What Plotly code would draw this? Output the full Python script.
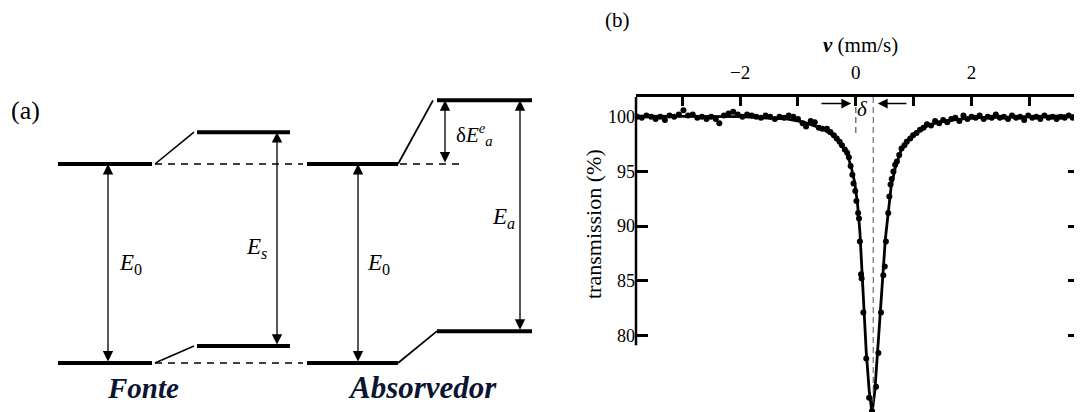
import plotly.graph_objects as go

# ---------------- Panel (b): Mossbauer spectrum data ----------------
v_data = [-3.78, -3.70, -3.62, -3.54, -3.46, -3.38, -3.30, -3.22, -3.14, -3.06,
          -2.98, -2.90, -2.82, -2.74, -2.66, -2.58, -2.50, -2.42, -2.36, -2.28,
          -2.20, -2.12, -2.04, -1.96, -1.88, -1.80, -1.72, -1.64, -1.56, -1.48,
          -1.40, -1.32, -1.24, -1.16, -1.08, -1.00, -0.92, -0.86, -0.78, -0.71,
          -0.64, -0.58, -0.50, -0.44, -0.38, -0.33, -0.28, -0.24, -0.19, -0.15,
          -0.12, -0.09, -0.06, -0.04, -0.01, 0.01, 0.04, 0.055, 0.07, 0.09,
          0.10, 0.13, 0.18, 0.23, 0.28, 0.35, 0.39, 0.435, 0.475, 0.50,
          0.52, 0.56, 0.58, 0.60, 0.62, 0.65, 0.68, 0.71, 0.75, 0.79,
          0.84, 0.88, 0.94, 0.99, 1.05, 1.11, 1.17, 1.23, 1.30, 1.37,
          1.44, 1.51, 1.58, 1.65, 1.72, 1.79, 1.86, 1.93, 2.00, 2.07,
          2.14, 2.21, 2.28, 2.35, 2.42, 2.49, 2.56, 2.63, 2.70, 2.77,
          2.84, 2.91, 2.98, 3.05, 3.12, 3.19, 3.26, 3.33, 3.40, 3.47,
          3.54, 3.61, 3.68, 3.75, 3.82]
t_data = [100.0, 99.9, 100.1, 100.0, 99.8, 100.0, 99.7, 100.1, 100.0, 100.2,
          100.6, 100.1, 100.2, 99.9, 100.0, 99.8, 100.0, 99.8, 99.4, 100.1,
          100.3, 100.45, 100.2, 100.0, 100.2, 100.1, 100.0, 99.9, 100.1, 100.0,
          99.8, 100.0, 99.9, 100.1, 100.0, 99.8, 99.4, 99.1, 99.6, 99.5,
          99.0, 98.9, 98.9, 98.6, 98.3, 98.0, 97.7, 97.4, 97.0, 96.7,
          96.3, 95.5, 94.7, 93.9, 93.2, 92.3, 91.2, 90.7, 88.6, 85.6,
          85.2, 82.1, 77.9, 74.3, 73.1, 75.3, 78.4, 82.1, 85.5, 86.3,
          88.6, 91.2, 92.7, 93.8, 94.3, 95.0, 95.6, 95.9, 96.5, 97.1,
          97.4, 97.7, 98.0, 98.3, 98.5, 98.8, 99.0, 99.3, 99.2, 99.6,
          99.4, 99.7, 99.5, 99.8, 99.9, 99.6, 100.1, 99.8, 100.0, 99.9,
          100.1, 99.8, 100.0, 99.9, 100.2, 99.9, 100.0, 99.8, 100.1, 99.9,
          100.0, 99.7, 100.1, 99.9, 100.0, 99.8, 100.1, 99.9, 100.0, 99.8,
          100.0, 99.9, 100.1, 99.9, 100.0]

v_fit = [-3.80, -2.0, -1.2, -0.9, -0.6, -0.4, -0.25, -0.15, -0.08, -0.02,
         0.03, 0.07, 0.10, 0.14, 0.18, 0.23, 0.28, 0.33, 0.38, 0.43,
         0.47, 0.51, 0.56, 0.61, 0.68, 0.78, 0.90, 1.05, 1.25, 1.50,
         2.0, 3.875]
t_fit = [100.05, 100.0, 99.8, 99.5, 98.95, 98.3, 97.4, 96.6, 95.4, 94.0,
         92.0, 89.5, 86.5, 82.5, 78.5, 75.0, 72.9, 75.0, 78.5, 82.3,
         85.7, 88.8, 91.5, 93.6, 95.3, 96.9, 97.9, 98.6, 99.2, 99.6,
         99.9, 100.1]

x_ticks = [-3, -2, -1, 0, 1, 2, 3]
x_ticklabels = ["", "\u22122", "", "0", "", "2", ""]
y_ticks = [80, 85, 90, 95, 100]
isomer_shift = 0.3

# ---------------- Panel (a): energy level diagram ----------------
E_ground = 0.0
E_excited = 10.0
src_shift = [0.85, 11.6]      # shifted source ground / excited
abs_shift = [1.6, 13.2]       # shifted absorber ground / excited

FONT = "Liberation Serif"
NAVY = "#0b1533"

# page body has an 8px margin: figure occupies window pixels 8..1082 / 8..412
OFF = 8
W, H = 1082 - OFF, 412 - OFF


def px(X):
    return (X - OFF) / W


def py(Y):
    return 1 - (Y - OFF) / H


fig = go.Figure()


def seg(x, y, width=4, dash=None):
    fig.add_trace(go.Scatter(x=x, y=y, mode="lines", xaxis="x", yaxis="y",
                             line=dict(color="black", width=width, dash=dash),
                             hoverinfo="skip", showlegend=False))


# source
seg([58, 152], [E_ground, E_ground])
seg([58, 152], [E_excited, E_excited])
seg([197, 290], [src_shift[0]] * 2)
seg([197, 290], [src_shift[1]] * 2)
seg([155, 194], [E_excited, src_shift[1]], width=1.6)
seg([155, 194], [E_ground, src_shift[0]], width=1.6)
seg([155, 303], [E_excited, E_excited], width=1.5, dash="7px,6px")
seg([155, 303], [E_ground, E_ground], width=1.5, dash="7px,6px")
# absorber
seg([307, 398], [E_ground, E_ground])
seg([307, 398], [E_excited, E_excited])
seg([437, 532], [abs_shift[0]] * 2)
seg([437, 532], [abs_shift[1]] * 2)
seg([398, 433], [E_excited, abs_shift[1]], width=1.8)
seg([398, 437], [E_ground, abs_shift[0]], width=1.8)
seg([400, 465], [E_excited, E_excited], width=1.5, dash="7px,6px")


def darrow(x, y0, y1):
    fig.add_annotation(x=x, y=y1, ax=x, ay=y0, xref="x", yref="y", axref="x", ayref="y",
                       text="", showarrow=True, arrowhead=2, arrowsize=1.6,
                       arrowwidth=1.3, arrowcolor="black", arrowside="end+start")


darrow(108, E_ground, E_excited)
darrow(277, src_shift[0], src_shift[1])
darrow(358, E_ground, E_excited)
darrow(445, E_excited, abs_shift[1])
darrow(520, abs_shift[0], abs_shift[1])


def label(x, y, text, size=22, color="black", xref="x", yref="y", angle=0):
    fig.add_annotation(x=x, y=y, xref=xref, yref=yref, text=text, showarrow=False,
                       font=dict(family=FONT, size=size, color=color), xanchor="center",
                       yanchor="middle", textangle=angle)


label(130, 5.0, "<i>E</i><sub>0</sub>", size=23)
label(256, 5.8, "<i>E<sub>s</sub></i>", size=23)
label(378, 5.0, "<i>E</i><sub>0</sub>", size=23)
label(503, 7.3, "<i>E<sub>a</sub></i>", size=23)
label(474, 11.5, "δ<i>E</i><sup><i>e</i></sup><sub><i>a</i></sub>", size=21)
label(143, -1.25, "<b><i>Fonte</i></b>", size=29, color=NAVY)
label(422, -1.25, "<b><i>Absorvedor</i></b>", size=31, color=NAVY)
label(px(25), py(110), "(a)", size=26, xref="paper", yref="paper")

# --- spectrum (axes x2 / y2) ---
fig.add_trace(go.Scatter(x=v_fit, y=t_fit, mode="lines", xaxis="x2", yaxis="y2",
                         line=dict(color="black", width=2.8), hoverinfo="skip",
                         showlegend=False))
fig.add_trace(go.Scatter(x=v_data, y=t_data, mode="markers", xaxis="x2", yaxis="y2",
                         marker=dict(color="black", size=6), hoverinfo="skip",
                         showlegend=False))
fig.add_trace(go.Scatter(x=[0], y=[90], mode="markers", xaxis="x2", yaxis="y3",
                         marker=dict(opacity=0), hoverinfo="skip", showlegend=False))

# dashed reference lines
fig.add_trace(go.Scatter(x=[0, 0], y=[101.8, 98.4], mode="lines", xaxis="x2", yaxis="y2",
                         line=dict(color="#444", width=1.1, dash="6px,4px"),
                         hoverinfo="skip", showlegend=False))
fig.add_trace(go.Scatter(x=[isomer_shift, isomer_shift], y=[101.8, 73.3], mode="lines",
                         xaxis="x2", yaxis="y2",
                         line=dict(color="#555", width=1.0, dash="6px,4px"),
                         hoverinfo="skip", showlegend=False))

# delta arrows
fig.add_annotation(x=-0.08, y=101.2, ax=-0.62, ay=101.2, xref="x2", yref="y2",
                   axref="x2", ayref="y2", text="", showarrow=True, arrowhead=2,
                   arrowsize=1.4, arrowwidth=1.4, arrowcolor="black")
fig.add_annotation(x=0.38, y=101.2, ax=0.90, ay=101.2, xref="x2", yref="y2",
                   axref="x2", ayref="y2", text="", showarrow=True, arrowhead=2,
                   arrowsize=1.4, arrowwidth=1.4, arrowcolor="black")
label(0.12, 100.7, "<i>δ</i>", size=21, xref="x2", yref="y2")

# left / right axis lines (they stop near 79)
for xd in (0, 1):
    fig.add_shape(type="line", xref="x2 domain", yref="y2", x0=xd, x1=xd, y0=79.1, y1=101.8,
                  line=dict(color="black", width=2.5))

label(px(617), py(20), "(b)", size=21, xref="paper", yref="paper")
label(px(860), py(45), "<b><i>v</i></b> (mm/s)", size=21, xref="paper", yref="paper")
label(px(593), py(224), "transmission (%)", size=22, xref="paper", yref="paper", angle=-90)

fig.update_layout(
    width=W, height=H,
    margin=dict(l=0, r=0, t=0, b=0),
    paper_bgcolor="white", plot_bgcolor="rgba(0,0,0,0)",
    showlegend=False,
    font=dict(family=FONT, color="black"),
    xaxis=dict(domain=[0, px(580)], range=[OFF, 580], visible=False, fixedrange=True),
    yaxis=dict(domain=[0, 1], range=[(363 - 412) / 19.9, (363 - OFF) / 19.9], visible=False,
               fixedrange=True),
    xaxis2=dict(domain=[px(636), px(1080)], range=[-3.80, 3.875], anchor="y2",
                side="top", tickvals=x_ticks, ticktext=x_ticklabels, ticks="inside",
                ticklen=9, tickwidth=2.5, tickcolor="black", showline=True,
                linecolor="black", linewidth=2.5, showgrid=False, zeroline=False,
                tickfont=dict(family=FONT, size=19, color="black"),
                ticklabelstandoff=8),
    yaxis2=dict(domain=[0, py(97)], range=[73.0, 101.8], anchor="x2",
                tickvals=y_ticks, ticks="inside", ticklen=12, tickwidth=2.5,
                tickcolor="black", showline=False, showgrid=False, zeroline=False,
                tickfont=dict(family=FONT, size=18, color="black")),
    yaxis3=dict(domain=[0, py(97)], range=[73.0, 101.8], anchor="x2",
                overlaying="y2", side="right", tickvals=y_ticks, ticks="inside",
                ticklen=12, tickwidth=2.5, tickcolor="black", showticklabels=False,
                showline=False, showgrid=False, zeroline=False),
)

fig.write_html("out.html")
